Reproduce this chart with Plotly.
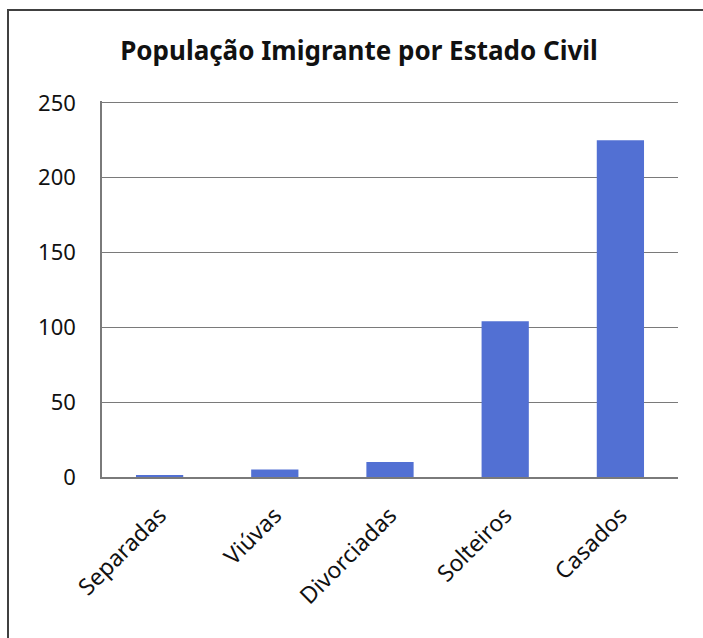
import plotly.graph_objects as go

# Estado civil da população imigrante
categorias = ["Separadas", "Viúvas", "Divorciadas", "Solteiros", "Casados"]
valores = [1, 5, 10, 104, 225]
ticks_y = [0, 50, 100, 150, 200, 250]

W, H = 703, 638
L, R, T, B = 102, 25, 101, 161

fig = go.Figure(
    go.Bar(
        x=categorias,
        y=valores,
        marker=dict(color="#5270D3", line=dict(width=0)),
        width=0.41,
    )
)

fig.update_layout(
    width=W,
    height=H,
    margin=dict(l=L, r=R, t=T, b=B),
    paper_bgcolor="white",
    plot_bgcolor="white",
    font=dict(family="Noto Sans", color="#111111"),
    showlegend=False,
    title=dict(
        text="<b>População Imigrante por Estado Civil</b>",
        x=359 / W,
        xanchor="center",
        y=1 - 51 / H,
        yanchor="middle",
        font=dict(family="Noto Sans", size=26, color="#111111"),
    ),
)

fig.update_yaxes(
    range=[0, 251.2],
    tickvals=ticks_y,
    showgrid=True,
    gridcolor="#7a7a7a",
    gridwidth=1.4,
    zeroline=False,
    showline=True,
    linecolor="#7a7a7a",
    linewidth=1.5,
    ticks="",
    ticklabelstandoff=20,
    tickfont=dict(size=22, color="#111111"),
)

fig.update_xaxes(
    showgrid=False,
    showline=True,
    linecolor="#7a7a7a",
    linewidth=1.5,
    ticks="",
    tickangle=-45,
    ticklabelstandoff=14,
    tickfont=dict(size=23, color="#111111"),
)

# Moldura do gráfico
pw = W - L - R
ph = H - T - B
fig.add_shape(
    type="rect",
    xref="paper",
    yref="paper",
    x0=(8 - L) / pw,
    x1=(W + 4 - L) / pw,
    y0=(H - T - B - (H + 4 - T)) / ph,
    y1=(H - B - 10) / ph,
    line=dict(color="#404040", width=2),
    fillcolor="rgba(0,0,0,0)",
    layer="below",
)

fig.write_html("out.html")
